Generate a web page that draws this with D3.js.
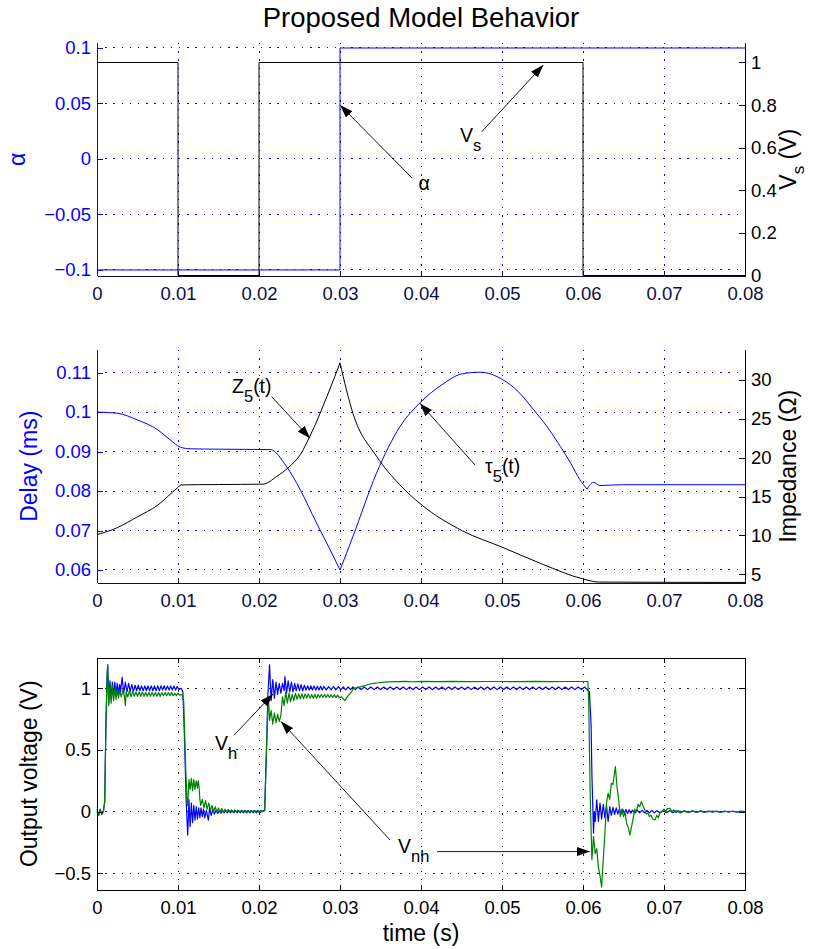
<!DOCTYPE html>
<html lang="en">
<head>
<meta charset="UTF-8">
<title>Proposed Model Behavior</title>
<script src="https://d3js.org/d3.v7.min.js"></script>
<style>
  body { margin: 0; background: #fff; }
  svg { display: block; font-family: 'Liberation Sans', Arial, Helvetica, sans-serif; }
</style>
</head>
<body>
<div id="chart"></div>
<script>
// ---- tick values ----
const xTicks = [0, 0.01, 0.02, 0.03, 0.04, 0.05, 0.06, 0.07, 0.08];
const alphaTicks = [-0.1, -0.05, 0, 0.05, 0.1];
const vsTicks = [0, 0.2, 0.4, 0.6, 0.8, 1];
const delayTicks = [0.06, 0.07, 0.08, 0.09, 0.1, 0.11];
const impTicks = [5, 10, 15, 20, 25, 30];
const voutTicks = [-0.5, 0, 0.5, 1];

// ---- top panel: source voltage and alpha ----
const vsData = [[0, 1], [0.01, 1], [0.01, 0], [0.02, 0], [0.02, 1], [0.06, 1], [0.06, 0], [0.08, 0]];
const alphaData = [[0, -0.1], [0.03, -0.1], [0.03, 0.1], [0.08, 0.1]];

// ---- middle panel: delay tau5 (ms) and impedance Z5 (ohm), split at the cusps ----
const tauData = [
  [[0, 0.1], [0.0025, 0.0997], [0.005, 0.098], [0.0075, 0.0955], [0.009, 0.093], [0.0103, 0.0911],
   [0.0115, 0.0907], [0.015, 0.0906], [0.0214, 0.0905], [0.0234, 0.0862], [0.0251, 0.0803],
   [0.0271, 0.0719], [0.0292, 0.0634], [0.03, 0.06]],
  [[0.03, 0.06], [0.0316, 0.0685], [0.0345, 0.0845], [0.0374, 0.0963], [0.04, 0.1026], [0.0425, 0.1068],
   [0.0451, 0.1097], [0.0473, 0.1101], [0.0501, 0.1082], [0.052, 0.1052], [0.0539, 0.1006],
   [0.0556, 0.0962], [0.0572, 0.0913], [0.0585, 0.087], [0.0596, 0.0829], [0.0605, 0.0805]],
  [[0.0605, 0.0805], [0.0613, 0.0822], [0.0621, 0.0814], [0.065, 0.0816], [0.08, 0.0816]]
];
const zData = [
  [[0, 10.1], [0.0025, 11.0], [0.005, 12.4], [0.0075, 13.9], [0.0099, 16.1], [0.0104, 16.5],
   [0.015, 16.55], [0.0205, 16.6], [0.0222, 17.6], [0.0237, 18.8], [0.0251, 20.4], [0.0263, 22.8],
   [0.0284, 27.9], [0.03, 32.2]],
  [[0.03, 32.2], [0.0316, 25.7], [0.0345, 20.2], [0.0374, 16.5], [0.04, 14.0], [0.0451, 10.6],
   [0.05, 8.5], [0.055, 6.3], [0.06, 4.4], [0.062, 4.0], [0.08, 3.95]]
];

// ---- bottom panel: output voltages ----
const vhData = [
  [0, 0], [0.0002, -0.03], [0.0004, 0.02], [0.0006, -0.02], [0.0008, 0.01], [0.00095, 0.08], [0.0011, 0.7], [0.00125, 1.1], [0.00132, 1.19],
  [0.00145, 0.88], [0.0016, 1.06], [0.00175, 0.92], [0.0019, 1.05], [0.00205, 0.94], [0.0022, 1.05], [0.00235, 0.95], [0.0025, 1.04], [0.00265, 0.96], [0.0028, 1.03], [0.0029, 0.97],
  [0.0031, 1.09], [0.0033, 0.96], [0.0035, 1.05], [0.0037, 0.97], [0.0039, 1.04], [0.0041, 0.975], [0.0043, 1.03], [0.0045, 0.975], [0.0047, 1.025], [0.0049, 0.98],
  [0.0051, 1.025], [0.0053, 0.98], [0.0055, 1.02], [0.0057, 0.98], [0.0059, 1.02], [0.0061, 0.98], [0.0063, 1.02], [0.0065, 0.98], [0.0067, 1.02], [0.0069, 0.98],
  [0.0071, 1.02], [0.0073, 0.98], [0.0075, 1.02], [0.0077, 0.98], [0.0079, 1.02], [0.0081, 0.985], [0.0083, 1.02], [0.0085, 0.985], [0.0087, 1.018], [0.0089, 0.985],
  [0.0091, 1.018], [0.0093, 0.985], [0.0095, 1.018], [0.0097, 0.985], [0.0099, 1.015], [0.0101, 0.99], [0.0104, 1.0],
  [0.0106, 0.97], [0.0108, 0.6], [0.011, 0.1], [0.0112, -0.19], [0.01135, 0.1], [0.0115, -0.12], [0.01165, 0.07], [0.0118, -0.09], [0.01195, 0.05],
  [0.0121, -0.07], [0.01225, 0.04], [0.0124, -0.06], [0.01255, 0.03], [0.0127, -0.05], [0.01285, 0.03], [0.013, -0.04], [0.01315, 0.02], [0.0133, -0.05], [0.0135, 0.01],
  [0.01375, -0.07], [0.0139, 0.03], [0.0141, -0.03], [0.0143, 0.02], [0.0145, -0.02], [0.0147, 0.012], [0.0149, -0.015], [0.0151, 0.012], [0.0153, -0.012], [0.0155, 0.01],
  [0.0157, -0.01], [0.0159, 0.01], [0.0161, -0.01], [0.0163, 0.009], [0.0165, -0.009], [0.0167, 0.009], [0.0169, -0.009], [0.0171, 0.009], [0.0173, -0.009], [0.0175, 0.009],
  [0.0177, -0.009], [0.0179, 0.009], [0.0181, -0.009], [0.0183, 0.009], [0.0185, -0.009], [0.0187, 0.009], [0.0189, -0.009], [0.0191, 0.009], [0.0193, -0.009], [0.0195, 0.009],
  [0.0197, -0.009], [0.0199, 0.009], [0.0201, -0.008], [0.0204, 0.004], [0.0207, 0.008],
  [0.0209, 0.45], [0.0211, 0.95], [0.0213, 1.19], [0.0215, 0.9], [0.0217, 1.07], [0.0219, 0.92], [0.0221, 1.05], [0.0223, 0.95], [0.0225, 1.04], [0.0227, 0.96],
  [0.0229, 1.04], [0.0231, 0.98], [0.0232, 1.095], [0.0234, 0.96], [0.0236, 1.06], [0.0238, 0.97], [0.024, 1.05], [0.0242, 0.97], [0.0244, 1.04], [0.0246, 0.98],
  [0.0248, 1.035], [0.025, 0.98], [0.0252, 1.03], [0.0254, 0.98], [0.0256, 1.025], [0.0258, 0.985], [0.026, 1.02], [0.0262, 0.985], [0.0264, 1.02], [0.0266, 0.985],
  [0.0268, 1.018], [0.027, 0.985], [0.0272, 1.016], [0.0274, 0.986], [0.0276, 1.016], [0.0278, 0.986], [0.028, 1.015], [0.0283, 0.987], [0.0286, 1.014], [0.0289, 0.987],
  [0.0292, 1.013], [0.0295, 0.988], [0.0298, 1.013], [0.0301, 0.988], [0.0304, 1.012], [0.0307, 0.988], [0.031, 1.012], [0.0313, 0.989], [0.0316, 1.012], [0.0319, 0.989],
  [0.0322, 1.011], [0.0326, 0.989], [0.033, 1.011], [0.0334, 0.989], [0.0338, 1.011], [0.0342, 0.989], [0.0346, 1.011], [0.035, 0.99], [0.0354, 1.01], [0.0358, 0.99],
  [0.0362, 1.011], [0.0366, 0.989], [0.037, 1.01], [0.0374, 0.99], [0.0378, 1.011], [0.0382, 0.989], [0.0386, 1.01], [0.039, 0.99], [0.0394, 1.011], [0.0398, 0.989],
  [0.0402, 1.01], [0.0406, 0.99], [0.041, 1.011], [0.0414, 0.989], [0.0418, 1.01], [0.0422, 0.99], [0.0426, 1.011], [0.043, 0.989], [0.0434, 1.01], [0.0438, 0.99],
  [0.0442, 1.011], [0.0446, 0.989], [0.045, 1.01], [0.0454, 0.99], [0.0458, 1.011], [0.0462, 0.989], [0.0466, 1.01], [0.047, 0.99], [0.0474, 1.011], [0.0478, 0.989],
  [0.0482, 1.01], [0.0486, 0.99], [0.049, 1.011], [0.0494, 0.989], [0.0498, 1.01], [0.0502, 0.99], [0.0506, 1.011], [0.051, 0.989], [0.0514, 1.01], [0.0518, 0.99],
  [0.0522, 1.011], [0.0526, 0.989], [0.053, 1.01], [0.0534, 0.99], [0.0538, 1.011], [0.0542, 0.989], [0.0546, 1.01], [0.055, 0.99], [0.0554, 1.011], [0.0558, 0.989],
  [0.0562, 1.01], [0.0566, 0.99], [0.057, 1.011], [0.0574, 0.989], [0.0578, 1.01], [0.0582, 0.99], [0.0586, 1.011], [0.059, 0.989], [0.0594, 1.01], [0.0598, 0.99],
  [0.0602, 1.01], [0.0605, 0.99], [0.0608, 0.97], [0.061, 0.7], [0.0611, 0.3], [0.0613, -0.175], [0.0614, 0.0], [0.0615, -0.08], [0.0617, 0.095], [0.0619, -0.08],
  [0.0621, 0.07], [0.0623, -0.06], [0.0625, 0.06], [0.0627, -0.05], [0.0629, 0.05], [0.0631, -0.08], [0.0633, 0.04], [0.0635, -0.03], [0.0637, 0.035], [0.0639, -0.025],
  [0.0641, 0.03], [0.0643, -0.02], [0.0645, 0.025], [0.0647, -0.02], [0.0649, 0.02], [0.0651, -0.015], [0.0653, 0.018], [0.0655, -0.015], [0.0657, 0.015], [0.0659, -0.012],
  [0.0661, 0.012], [0.0664, -0.012], [0.0667, 0.012], [0.067, -0.01], [0.0673, 0.01], [0.0676, -0.01], [0.0679, 0.01], [0.0682, -0.01], [0.0685, 0.01], [0.0688, -0.01],
  [0.0691, 0.008], [0.0695, -0.008], [0.0699, 0.008], [0.0703, -0.008], [0.0707, 0.008], [0.0711, -0.008], [0.0715, 0.006], [0.072, -0.006], [0.0725, 0.006], [0.073, -0.006],
  [0.0735, 0.006], [0.074, -0.006], [0.0745, 0.006], [0.075, -0.006], [0.0755, 0.005], [0.076, -0.005], [0.0765, 0.005], [0.077, -0.005], [0.0775, 0.005], [0.078, -0.005],
  [0.0785, 0.005], [0.079, -0.005], [0.0795, 0.005], [0.08, 0]
];
const vnhData = [
  [0, 0.02], [0.0002, -0.03], [0.0004, 0.01], [0.0006, -0.025], [0.0008, 0.0], [0.00095, 0.08], [0.0011, 0.7], [0.00125, 1.1], [0.00132, 1.19],
  [0.00145, 0.86], [0.0016, 1.04], [0.00175, 0.88], [0.0019, 1.02], [0.00205, 0.9], [0.0022, 1.0], [0.00235, 0.91], [0.0025, 0.99], [0.00265, 0.92], [0.0028, 0.98], [0.003, 0.93],
  [0.0032, 0.99], [0.0034, 0.93], [0.0035, 0.86], [0.0036, 0.97], [0.0038, 0.93], [0.004, 0.98], [0.0042, 0.93], [0.0044, 0.975], [0.0046, 0.935], [0.0048, 0.97],
  [0.005, 0.935], [0.0052, 0.97], [0.0054, 0.935], [0.0056, 0.97], [0.0058, 0.935], [0.006, 0.965], [0.0062, 0.935], [0.0064, 0.965], [0.0066, 0.935], [0.0068, 0.965],
  [0.007, 0.935], [0.0072, 0.965], [0.0074, 0.935], [0.0076, 0.965], [0.0078, 0.935], [0.008, 0.965], [0.0082, 0.94], [0.0084, 0.965], [0.0086, 0.94], [0.0088, 0.965],
  [0.009, 0.94], [0.0092, 0.965], [0.0094, 0.94], [0.0096, 0.96], [0.0098, 0.94], [0.01, 0.96], [0.0102, 0.945], [0.0105, 0.95],
  [0.0107, 0.9], [0.0109, 0.45], [0.0111, 0.1], [0.0112, 0.05], [0.01135, 0.26], [0.0115, 0.18], [0.01165, 0.27], [0.0118, 0.17], [0.01195, 0.26], [0.0121, 0.18],
  [0.01225, 0.25], [0.0124, 0.19], [0.0125, 0.25], [0.0126, 0.2], [0.0127, 0.1], [0.0128, 0.05], [0.013, 0.1], [0.0132, 0.03], [0.0134, 0.09], [0.0136, 0.02],
  [0.0138, 0.07], [0.014, 0.01], [0.0142, 0.05], [0.0144, 0.0], [0.0146, 0.04], [0.0148, 0.0], [0.015, 0.03], [0.0152, -0.005], [0.0154, 0.025], [0.0156, -0.005],
  [0.0158, 0.02], [0.016, -0.005], [0.0162, 0.018], [0.0164, -0.005], [0.0166, 0.015], [0.0168, -0.005], [0.017, 0.015], [0.0172, -0.005], [0.0174, 0.012], [0.0176, -0.006],
  [0.0178, 0.011], [0.018, -0.006], [0.0182, 0.011], [0.0184, -0.006], [0.0186, 0.01], [0.0188, -0.006], [0.019, 0.01], [0.0192, -0.006], [0.0194, 0.01], [0.0196, -0.006],
  [0.0198, 0.01], [0.02, -0.006], [0.0202, 0.01], [0.0205, 0.0], [0.0207, 0.01],
  [0.0209, 0.45], [0.0211, 0.85], [0.0212, 0.88], [0.0213, 0.74], [0.0215, 0.82], [0.0217, 0.71], [0.0219, 0.8], [0.0221, 0.72], [0.0223, 0.79], [0.0225, 0.73],
  [0.0227, 0.78], [0.0229, 0.93], [0.0231, 0.86], [0.0233, 0.97], [0.0235, 0.88], [0.0237, 0.96], [0.0239, 0.89], [0.0241, 0.95], [0.0243, 0.9], [0.0245, 0.96],
  [0.0247, 0.91], [0.0249, 0.955], [0.0251, 0.915], [0.0253, 0.955], [0.0255, 0.915], [0.0257, 0.955], [0.0259, 0.92], [0.0261, 0.955], [0.0263, 0.92], [0.0265, 0.95],
  [0.0267, 0.92], [0.0269, 0.95], [0.0271, 0.92], [0.0273, 0.95], [0.0275, 0.925], [0.0277, 0.95], [0.0279, 0.925], [0.0281, 0.95], [0.0283, 0.925], [0.0285, 0.95],
  [0.0287, 0.925], [0.0289, 0.948], [0.0291, 0.925], [0.0293, 0.948], [0.0295, 0.925], [0.0297, 0.945], [0.0299, 0.925], [0.0302, 0.93], [0.0306, 0.9], [0.031, 0.94],
  [0.0314, 0.97], [0.0317, 1.0], [0.0322, 1.005], [0.0327, 1.015], [0.0332, 1.025], [0.0337, 1.035], [0.0342, 1.04], [0.0348, 1.045], [0.0355, 1.05], [0.036, 1.052],
  [0.037, 1.054], [0.038, 1.056], [0.039, 1.053], [0.04, 1.056], [0.042, 1.054], [0.044, 1.056], [0.046, 1.054], [0.048, 1.055], [0.05, 1.055], [0.052, 1.054],
  [0.054, 1.056], [0.056, 1.054], [0.058, 1.055], [0.0606, 1.055],
  [0.0607, 0.9], [0.0609, 0.1], [0.0611, -0.39], [0.0613, -0.2], [0.0615, -0.34], [0.0617, -0.3], [0.0619, -0.45], [0.0621, -0.52], [0.0623, -0.61], [0.0625, -0.39],
  [0.0627, -0.18], [0.0629, 0.07], [0.0631, 0.15], [0.0633, 0.1], [0.0635, 0.23], [0.0637, 0.22], [0.064, 0.365], [0.0642, 0.2], [0.0644, 0.1], [0.0646, -0.04],
  [0.0648, 0.02], [0.065, -0.04], [0.0652, -0.01], [0.0654, -0.1], [0.0656, -0.13], [0.0658, -0.19], [0.066, -0.12], [0.0662, -0.05], [0.0664, 0.02], [0.0666, 0.0],
  [0.0668, 0.06], [0.067, 0.04], [0.0672, 0.081], [0.0674, 0.05], [0.0676, 0.02], [0.0678, -0.02], [0.068, -0.01], [0.0682, -0.04], [0.0684, -0.03], [0.0686, -0.06],
  [0.0689, -0.067], [0.0691, -0.03], [0.0693, -0.05], [0.0695, -0.01], [0.0697, 0.0], [0.07, 0.02], [0.0702, 0.0], [0.0704, 0.025], [0.0707, 0.027], [0.071, 0.0],
  [0.0712, 0.015], [0.0715, -0.01], [0.0718, 0.01], [0.072, -0.01], [0.0725, 0.005], [0.073, -0.008], [0.0735, 0.005], [0.074, -0.005], [0.0745, 0.004], [0.075, -0.004],
  [0.076, 0.004], [0.077, -0.004], [0.078, 0.003], [0.079, -0.003], [0.08, 0]
];

// ---- layout ----
const FONT = "'Liberation Sans', Arial, Helvetica, sans-serif";
const BLUE = '#0000ff', GREEN = '#008000', NAVY = '#0d0d45';
const width = 819, height = 949;
const left = 97, right = 745;
const tops = [43, 350, 657.5], ph = 232.5;

const svg = d3.select('#chart').append('svg')
  .attr('width', width).attr('height', height)
  .style('background', '#fff');

svg.append('defs').append('marker')
  .attr('id', 'head').attr('viewBox', '0 0 13 9')
  .attr('refX', 13).attr('refY', 4.5)
  .attr('markerWidth', 13).attr('markerHeight', 9)
  .attr('markerUnits', 'userSpaceOnUse').attr('orient', 'auto')
  .append('path').attr('d', 'M0,0L13,4.5L0,9Z').attr('fill', '#000');

const x = d3.scaleLinear().domain([0, 0.08]).range([left, right]);
const yAlpha = d3.scaleLinear().domain([-0.105, 0.1045]).range([tops[0] + ph, tops[0]]);
const yVs = d3.scaleLinear().domain([0, 1.0915]).range([tops[0] + ph, tops[0]]);
const yDelay = d3.scaleLinear().domain([0.05683, 0.11572]).range([tops[1] + ph, tops[1]]);
const yImp = d3.scaleLinear().domain([3.945, 33.86]).range([tops[1] + ph, tops[1]]);
const yV = d3.scaleLinear().domain([-0.6354, 1.2497]).range([tops[2] + ph, tops[2]]);

const fmt = d3.format('~g');

function grid(top, yScale, yTicks, color) {
  const g = svg.append('g')
    .attr('stroke', color).attr('stroke-width', 1)
    .attr('stroke-dasharray', '1.3,6.9').attr('shape-rendering', 'crispEdges');
  g.selectAll('line.h').data(yTicks).join('line').attr('class', 'h')
    .attr('x1', left).attr('x2', right)
    .attr('y1', d => yScale(d)).attr('y2', d => yScale(d));
  g.selectAll('line.v').data(xTicks).join('line').attr('class', 'v')
    .attr('x1', d => x(d)).attr('x2', d => x(d))
    .attr('y1', top).attr('y2', top + ph);
}

function styleAxis(sel, color, showText) {
  sel.attr('font-family', null).attr('font-size', null);
  sel.select('.domain').attr('stroke', color).attr('shape-rendering', 'crispEdges');
  sel.selectAll('.tick line').attr('stroke', color).attr('shape-rendering', 'crispEdges');
  sel.selectAll('.tick text')
    .attr('fill', color)
    .style('font-family', FONT).style('font-size', '18.5px')
    .style('display', showText ? null : 'none');
}

function xAxis(top, color) {
  const g = svg.append('g').attr('transform', `translate(0,${top + ph})`)
    .call(d3.axisBottom(x).tickValues(xTicks).tickFormat(fmt)
      .tickSizeInner(-5).tickSizeOuter(0).tickPadding(11));
  styleAxis(g, color, true);
}

function yAxisLeft(scale, ticks, color, showText) {
  const g = svg.append('g').attr('transform', `translate(${left},0)`)
    .call(d3.axisLeft(scale).tickValues(ticks).tickFormat(fmt)
      .tickSizeInner(-6).tickSizeOuter(0).tickPadding(6));
  styleAxis(g, color, showText);
}

function yAxisRight(scale, ticks, color, showText) {
  const g = svg.append('g').attr('transform', `translate(${right},0)`)
    .call(d3.axisRight(scale).tickValues(ticks).tickFormat(fmt)
      .tickSizeInner(-6).tickSizeOuter(0).tickPadding(6));
  styleAxis(g, color, showText);
}

function drawLine(data, yScale, color, w) {
  svg.append('path')
    .datum(data)
    .attr('fill', 'none')
    .attr('stroke', color)
    .attr('stroke-width', w)
    .attr('stroke-linejoin', 'round')
    .attr('d', d3.line().x(d => x(d[0])).y(d => yScale(d[1])));
}

// smooth pieces, kept sharp where one piece meets the next
function drawCurve(pieces, yScale, color, w) {
  const line = d3.line().curve(d3.curveMonotoneX).x(d => x(d[0])).y(d => yScale(d[1]));
  svg.append('g').selectAll('path').data(pieces).join('path')
    .attr('fill', 'none')
    .attr('stroke', color)
    .attr('stroke-width', w)
    .attr('d', line);
}

function yLabel(px, top, color, parts) {
  const t = svg.append('text')
    .attr('transform', `translate(${px},${top + ph / 2}) rotate(-90)`)
    .attr('text-anchor', 'middle')
    .attr('fill', color)
    .style('font-size', '23px');
  parts.forEach(p => {
    t.append('tspan').text(p.s)
      .attr('dy', p.sub ? 8 : (p.back ? -8 : null))
      .style('font-size', p.sub ? '17px' : null);
  });
}

// annotation: text position, optional subscript and suffix, arrows in data coordinates
function note(yScale, pos, main, sub, rest, arrows) {
  const t = svg.append('text')
    .attr('x', x(pos[0])).attr('y', yScale(pos[1]))
    .attr('fill', '#000').style('font-size', '19.5px');
  t.append('tspan').text(main);
  if (sub) t.append('tspan').text(sub).attr('dy', 9).style('font-size', '16.5px');
  if (rest) t.append('tspan').text(rest).attr('dy', -9);
  arrows.forEach(a => {
    svg.append('line')
      .attr('x1', x(a[0][0])).attr('y1', yScale(a[0][1]))
      .attr('x2', x(a[1][0])).attr('y2', yScale(a[1][1]))
      .attr('stroke', '#000').attr('stroke-width', 0.9)
      .attr('marker-end', 'url(#head)');
  });
}

// ---- title ----
svg.append('text')
  .attr('x', (left + right) / 2).attr('y', 27)
  .attr('text-anchor', 'middle')
  .style('font-size', '27.5px')
  .text('Proposed Model Behavior');

// ---- panel 1 ----
grid(tops[0], yAlpha, alphaTicks, BLUE);
drawLine(alphaData, yAlpha, BLUE, 1);
drawLine(vsData, yVs, '#000', 1);
yAxisLeft(yAlpha, alphaTicks, BLUE, true);
yAxisRight(yVs, vsTicks, '#000', true);
xAxis(tops[0], NAVY);
yLabel(25, tops[0], BLUE, [{ s: 'α' }]);
yLabel(796, tops[0], '#000', [{ s: 'V' }, { s: 's', sub: true }, { s: ' (V)', back: true }]);
note(yAlpha, [0.0397, -0.028], 'α', null, null, [[[0.0389, -0.0172], [0.03, 0.0486]]]);
note(yVs, [0.0448, 0.628], 'V', 's', null, [[[0.0475, 0.675], [0.0551, 0.988]]]);

// ---- panel 2 ----
grid(tops[1], yDelay, delayTicks, BLUE);
drawCurve(zData, yImp, '#000', 1);
drawCurve(tauData, yDelay, BLUE, 1);
yAxisLeft(yDelay, delayTicks, BLUE, true);
yAxisRight(yImp, impTicks, '#000', true);
xAxis(tops[1], NAVY);
yLabel(37, tops[1], BLUE, [{ s: 'Delay (ms)' }]);
yLabel(796, tops[1], '#000', [{ s: 'Impedance (Ω)' }]);
note(yImp, [0.01667, 28.33], 'Z', '5', '(t)', [[[0.02157, 27.85], [0.0263, 22.5]]]);
note(yDelay, [0.0479, 0.08457], 'τ', '5', '(t)', [[[0.04667, 0.08659], [0.03988, 0.1022]]]);

// ---- panel 3 ----
grid(tops[2], yV, voutTicks, '#222');
drawLine(vhData, yV, BLUE, 1.2);
drawLine(vnhData, yV, GREEN, 1.2);
yAxisLeft(yV, voutTicks, '#000', true);
yAxisRight(yV, voutTicks, '#000', false);
xAxis(tops[2], '#000');
{
  const g = svg.append('g').attr('transform', `translate(0,${tops[2]})`)
    .call(d3.axisTop(x).tickValues(xTicks).tickSizeInner(-5).tickSizeOuter(0));
  styleAxis(g, '#000', false);
}
yLabel(37, tops[2], '#000', [{ s: 'Output voltage (V)' }]);
note(yV, [0.01457, 0.5], 'V', 'h', null, [[[0.01695, 0.622], [0.02173, 0.954]]]);
note(yV, [0.03716, -0.337], 'V', 'nh', null, [
  [[0.03617, -0.23], [0.02272, 0.731]],
  [[0.04198, -0.324], [0.06086, -0.324]]
]);

svg.append('text')
  .attr('x', (left + right) / 2).attr('y', 941)
  .attr('text-anchor', 'middle')
  .style('font-size', '23px')
  .text('time (s)');
</script>
</body>
</html>
